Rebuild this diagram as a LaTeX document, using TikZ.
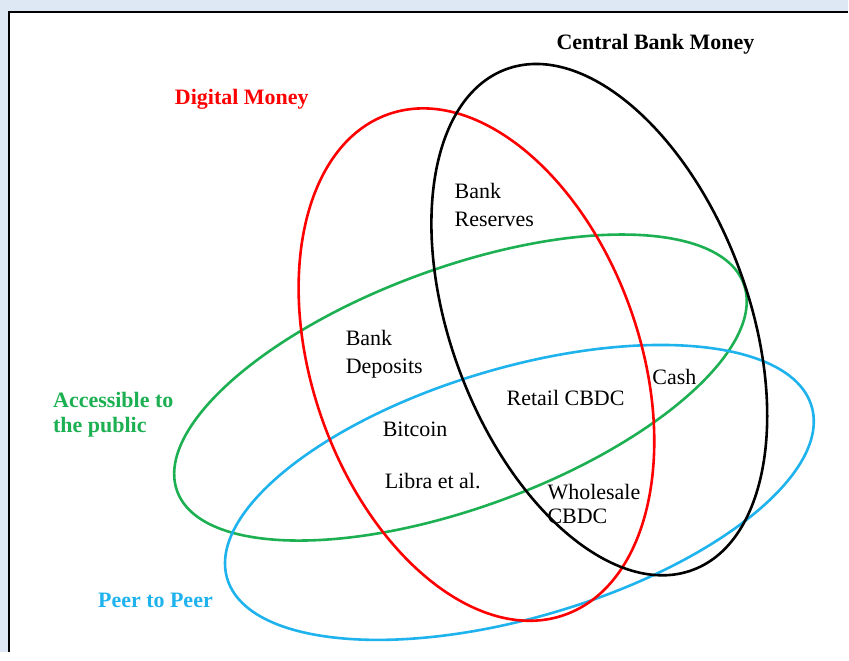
\documentclass[tikz,border=0pt]{standalone}
\usepackage{fontspec}
\setmainfont{Liberation Serif}
\definecolor{color_venn_digital}{HTML}{FF0000}
\definecolor{color_venn_public}{HTML}{1DB053}
\definecolor{color_venn_peer}{HTML}{1FB3EE}
\definecolor{color_venn_frame}{HTML}{DEE8F4}
\def\reservedspace{\fill[color_venn_frame] (0,0) rectangle (849,653);}

\begin{document}
\begin{tikzpicture}[x=1pt, y=-1pt,
        venn/.style={line width=2.6pt},
        lbl/.style={inner sep=0pt, anchor=base west, align=left, font=\fontsize{22}{28}\selectfont},
        title/.style={lbl, font=\fontsize{22}{25}\selectfont\bfseries}]
            \reservedspace
            \fill[white] (9,12) rectangle (849,653);
            \draw[black, line width=2pt] (9,653) -- (9,12) -- (849,12);
            % the four sets
            \draw[venn, color_venn_public, shift={(461,388)}, rotate=20.1] (0,0) ellipse [x radius=302, y radius=120];
            \draw[venn, color_venn_peer, shift={(520,493)}, rotate=16.4] (0,0) ellipse [x radius=305, y radius=125];
            \draw[venn, color_venn_digital, shift={(477,365)}, rotate=109.4] (0,0) ellipse [x radius=265.7, y radius=163.9];
            \draw[venn, black, shift={(600,320)}, rotate=110.5] (0,0) ellipse [x radius=267.5, y radius=149];
            % set names (multi-line nodes sit on their last baseline)
            \node[title, black] (central) at (557,50) {Central Bank Money};
            \node[title, color_venn_digital] (digital) at (175,105) {Digital Money};
            \node[title, color_venn_public] (public) at (53,433) {Accessible to\\the public};
            \node[title, color_venn_peer] (peer) at (98,608) {Peer to Peer};
            % members
            \node[lbl] (reserves) at (455,227) {Bank\\Reserves};
            \node[lbl] (deposits) at (346,374) {Bank\\Deposits};
            \node[lbl] (cash) at (653,385) {Cash};
            \node[lbl] (retail) at (507,406) {Retail CBDC};
            \node[lbl] (bitcoin) at (383,437) {Bitcoin};
            \node[lbl] (libra) at (385,489) {Libra et al.};
            \node[lbl, font=\fontsize{22}{24}\selectfont] (wholesale) at (548,524) {Wholesale\\CBDC};
\end{tikzpicture}
\end{document}
